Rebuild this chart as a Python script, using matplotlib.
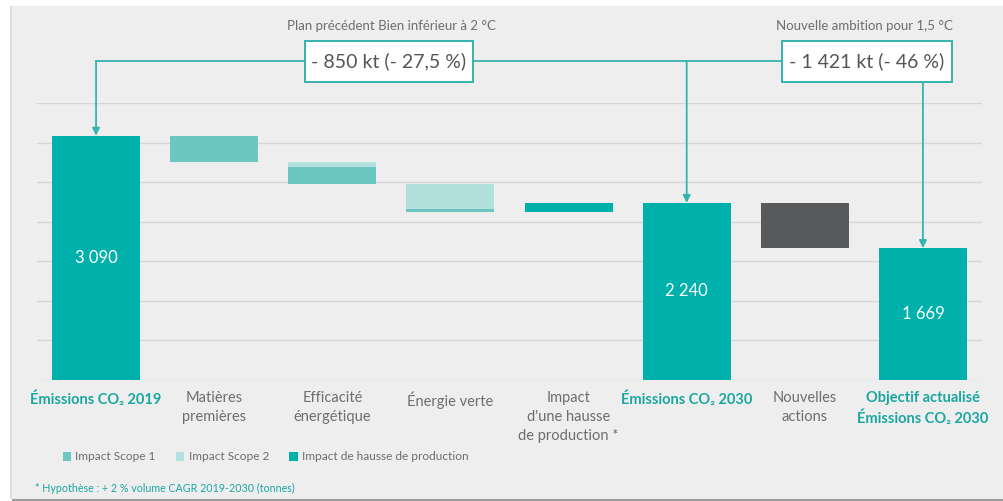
import matplotlib
matplotlib.use("Agg")
import matplotlib.pyplot as plt
from matplotlib.patches import Rectangle, Patch

plt.rcParams['font.family'] = ['Lato', 'DejaVu Sans']

# ---------------- data ----------------
categories = ["Émissions CO₂ 2019", "Matières\npremières", "Efficacité\nénergétique",
              "Énergie verte", "Impact\nd'une hausse\nde production *",
              "Émissions CO₂ 2030", "Nouvelles\nactions",
              "Objectif actualisé\nÉmissions CO₂ 2030"]
totals = {0: 3090, 5: 2240, 7: 1669}
total_labels = {0: "3 090", 5: "2 240", 7: "1 669"}
# step segments
scope2_delta = [0, 0, -70, -320, 0, 0, 0, 0]
scope1_delta = [0, -330, -210, -30, 0, 0, 0, 0]
production_delta = [0, 0, 0, 0, 110, 0, 0, 0]
actions_delta = [0, 0, 0, 0, 0, 0, -571, 0]
label_is_total = [True, False, False, False, False, True, False, True]

box1_text = "- 850 kt (- 27,5 %)"
box2_text = "- 1 421 kt (- 46 %)"
head1_text = "Plan précédent Bien inférieur à 2 °C"
head2_text = "Nouvelle ambition pour 1,5 °C"
legend_labels = ["Impact Scope 1", "Impact Scope 2", "Impact de hausse de production"]
footnote = "* Hypothèse : + 2 % volume CAGR 2019-2030 (tonnes)"

# ---------------- style ----------------
TEAL = "#00b0aa"
SCOPE1 = "#6cc6c2"
SCOPE2 = "#b2e0dd"
DARK = "#58595b"
LINE = "#35b3ae"
GRAY_TXT = "#6e6e6e"
TEAL_TXT = "#1aa7a1"

fig = plt.figure(figsize=(10.04, 5.01), dpi=100)
fig.patch.set_facecolor("white")
# card background
fig.patches.append(Rectangle((12 / 1004, 2 / 501), 1 - 12 / 1004, 493 / 501,
                             transform=fig.transFigure, facecolor="#eeeeee",
                             edgecolor="none", zorder=-10))
fig.patches.append(Rectangle((12 / 1004, 0), 1, 2 / 501, transform=fig.transFigure,
                             facecolor="#9a9a9a", edgecolor="none", zorder=-9))
fig.patches.append(Rectangle((10 / 1004, 2 / 501), 2 / 1004, 493 / 501,
                             transform=fig.transFigure, facecolor="#dcdcdc",
                             edgecolor="none", zorder=-9))

ax = fig.add_axes([37 / 1004, 121 / 501, 945 / 1004, 276.7 / 501])
ax.set_facecolor("none")
ax.set_xlim(-0.5, 7.5)
ax.set_ylim(0, 3500)
ax.set_yticks(range(0, 3501, 500))
ax.set_yticklabels([])
ax.grid(axis="y", color="#d6d6d6", lw=1)
ax.set_axisbelow(True)
for s in ax.spines.values():
    s.set_visible(False)
ax.tick_params(axis="both", length=0)

W = 0.745
level = 0
for i in range(len(categories)):
    if i in totals:
        level = totals[i]
        ax.bar(i, level, width=W, color=TEAL, zorder=3)
        ax.text(i, level / 2, total_labels[i], color="white", ha="center",
                va="center", fontsize=12, zorder=4)
        continue
    for delta, col in ((scope2_delta[i], SCOPE2), (scope1_delta[i], SCOPE1),
                       (production_delta[i], TEAL), (actions_delta[i], DARK)):
        if delta != 0:
            ax.bar(i, delta, bottom=level, width=W, color=col, zorder=3)
            level += delta

ax.set_xticks(range(len(categories)))
ax.set_xticklabels(categories, fontsize=10.5, linespacing=1.45, va="top")
ax.tick_params(axis="x", pad=8)
for lab, tot in zip(ax.get_xticklabels(), label_is_total):
    if tot:
        lab.set_color(TEAL_TXT)
        lab.set_fontweight("bold")
    else:
        lab.set_color(GRAY_TXT)

# ---------------- annotations ----------------
y_line = 4035
box_y0, box_y1 = 3773, 4288
b1 = (1.77, 3.19)
b2 = (5.81, 7.245)
kw = dict(color=LINE, lw=1.3, clip_on=False, zorder=5)
ax.plot([0, b1[0]], [y_line, y_line], **kw)
ax.plot([b1[1], b2[0]], [y_line, y_line], **kw)
for x0, x1, txt in ((b1[0], b1[1], box1_text), (b2[0], b2[1], box2_text)):
    ax.add_patch(Rectangle((x0, box_y0), x1 - x0, box_y1 - box_y0, facecolor="white",
                           edgecolor=LINE, lw=1.4, clip_on=False, zorder=6))
    ax.text((x0 + x1) / 2, (box_y0 + box_y1) / 2, txt, ha="center", va="center",
            fontsize=14, color="#555555", zorder=7, clip_on=False)
ax.text(sum(b1) / 2 + 0.02, 4480, head1_text, ha="center", va="center",
        fontsize=9.5, color=GRAY_TXT, clip_on=False)
ax.text(sum(b2) / 2 - 0.02, 4480, head2_text, ha="center", va="center",
        fontsize=9.5, color=GRAY_TXT, clip_on=False)

arrow = dict(arrowstyle="-|>", color=LINE, lw=1.3, mutation_scale=11,
             shrinkA=0, shrinkB=0)
ax.annotate("", xy=(0, totals[0]), xytext=(0, y_line), arrowprops=arrow,
            annotation_clip=False, zorder=5)
ax.annotate("", xy=(5, totals[5]), xytext=(5, y_line), arrowprops=arrow,
            annotation_clip=False, zorder=5)
ax.annotate("", xy=(7, totals[7]), xytext=(7, box_y0), arrowprops=arrow,
            annotation_clip=False, zorder=5)

# ---------------- legend & footnote ----------------
handles = [Patch(facecolor=SCOPE1), Patch(facecolor=SCOPE2), Patch(facecolor=TEAL)]
fig.legend(handles, legend_labels, ncol=3, loc="center left",
           bbox_to_anchor=(52 / 1004, 44 / 501), frameon=False, fontsize=8.6,
           handlelength=0.7, handleheight=0.7, handletextpad=0.35,
           columnspacing=1.7, labelcolor=GRAY_TXT)
fig.text(35 / 1004, 13 / 501, footnote, color=TEAL_TXT, fontsize=7.7,
         ha="left", va="center")

fig.savefig("out.png", dpi=100)
